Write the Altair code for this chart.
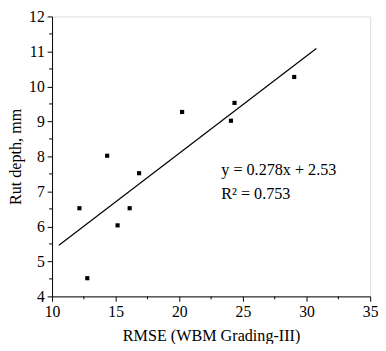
import altair as alt
import pandas as pd

rmse = [12.15, 12.77, 14.33, 15.15, 16.1, 16.84, 20.22, 24.06, 24.34, 29.03]
rut = [6.52, 4.52, 8.02, 6.03, 6.52, 7.52, 9.27, 9.02, 9.53, 10.27]

fit_x = [10.54, 30.77]
slope = 0.278
intercept = 2.53
fit_y = [slope * v + intercept for v in fit_x]

eq_lines = ["y = 0.278x + 2.53", "R² = 0.753"]
eq_x = [23.3, 23.3]
eq_y = [7.6, 6.92]

x_major = [10, 15, 20, 25, 30, 35]
x_minor = [12.5, 17.5, 22.5, 27.5, 32.5]
y_major = [4, 5, 6, 7, 8, 9, 10, 11, 12]
y_minor = [4.5, 5.5, 6.5, 7.5, 8.5, 9.5, 10.5, 11.5]

W, H = 325, 286

pts = pd.DataFrame({"x": rmse, "y": rut})
fit = pd.DataFrame({"x": fit_x, "y": fit_y})
eq = pd.DataFrame({"x": eq_x, "y": eq_y, "t": eq_lines})
xm = pd.DataFrame({"x": x_minor})
ym = pd.DataFrame({"y": y_minor})

FONT = "Liberation Serif, Times New Roman, serif"

xscale = alt.Scale(domain=[10, 35], nice=False, zero=False)
yscale = alt.Scale(domain=[4, 12], nice=False, zero=False)

xaxis = alt.Axis(title="RMSE (WBM Grading-III)", values=x_major, titlePadding=8, labelOverlap=False)
yaxis = alt.Axis(title="Rut depth, mm", values=y_major, titlePadding=5, labelOverlap=False)

X = alt.X("x:Q", scale=xscale, axis=xaxis)
Y = alt.Y("y:Q", scale=yscale, axis=yaxis)

points = alt.Chart(pts).mark_point(shape="square", filled=True, color="black", size=18, opacity=1).encode(x=X, y=Y)

line = alt.Chart(fit).mark_line(color="black", strokeWidth=1.2).encode(x=X, y=Y)

text = alt.Chart(eq).mark_text(align="left", baseline="middle", font=FONT, fontSize=16.5, color="black").encode(
    x=X, y=Y, text="t:N"
)

xminor = alt.Chart(xm).mark_rule(color="black", strokeWidth=1).encode(
    x=X,
    y=alt.value(H),
    y2=alt.value(H + 3),
)
yminor = alt.Chart(ym).mark_rule(color="black", strokeWidth=1).encode(
    y=Y,
    x=alt.value(0),
    x2=alt.value(-3),
)

chart = (points + line + text + xminor + yminor).properties(
    width=W,
    height=H,
    autosize=alt.AutoSizeParams(type="none"),
    padding={"left": 45, "top": 5, "right": 8, "bottom": 45},
).configure_view(stroke="black", strokeWidth=1).configure(background="white").configure_axis(
    grid=False,
    domainColor="black",
    tickColor="black",
    labelColor="black",
    titleColor="black",
    labelFont=FONT,
    titleFont=FONT,
    labelFontSize=16,
    titleFontSize=16.5,
    titleFontWeight="normal",
    labelPadding=3,
    labelFlush=False,
    labelOverlap=False,
    tickSize=5,
)

chart.save("out.html", embed_options={"renderer": "svg", "actions": False})
